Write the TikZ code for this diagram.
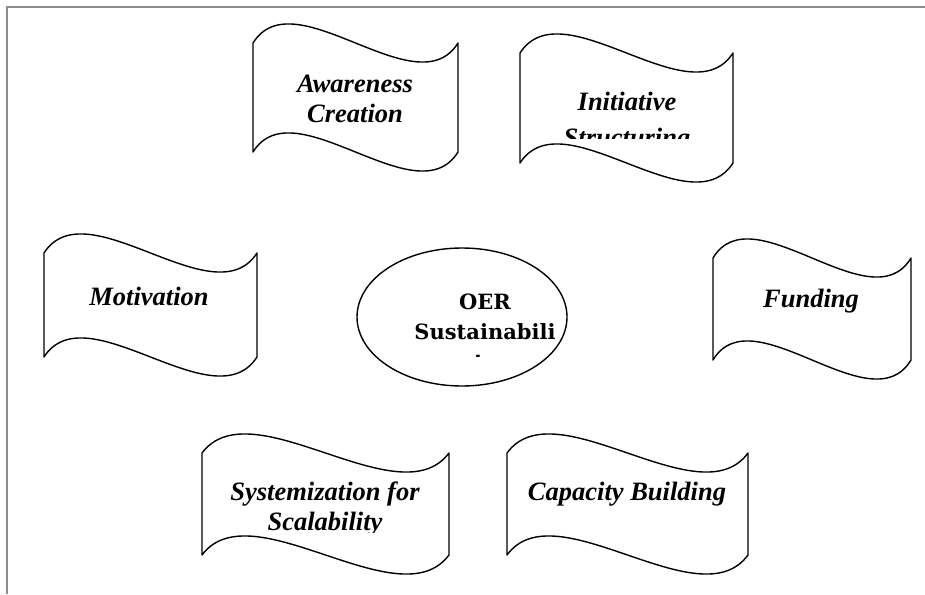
\documentclass[tikz,border=0pt]{standalone}
\usepackage{fontspec}
\setmainfont{Liberation Serif}
\newfontfamily\oerfont{DejaVu Serif}
\usetikzlibrary{shapes.geometric}

\tikzset{
  flagline/.style={draw=black, line width=1.4pt, fill=white, line join=round},
  flagtext/.style={font=\fontsize{26.5}{30}\selectfont\bfseries\itshape, align=center, anchor=base, inner sep=0pt},
  oertext/.style={font=\oerfont\fontsize{21}{30}\selectfont\bfseries, align=center, anchor=base, inner sep=0pt},
  frameline/.style={draw=black!45, line width=1.5pt},
}

% wave box: left x, top y, width, height
\newcommand{\waveflag}[4]{%
  \draw[flagline] (#1,#2) .. controls (#1+0.2*#3,#2-66) and (#1+0.8*#3,#2+66) .. (#1+#3,#2)
    -- (#1+#3,#2+#4) .. controls (#1+0.8*#3,#2+#4+66) and (#1+0.2*#3,#2+#4-66) .. (#1,#2+#4) -- cycle;}

\begin{document}
\begin{tikzpicture}[x=1pt, y=-1pt]
\useasboundingbox (0,0) rectangle (925,594);
\draw[frameline] (7,594) -- (7,7) -- (925,7);
%
\waveflag{253}{43}{205}{109}
\waveflag{520}{53}{213}{110}
\waveflag{44}{253}{213}{104}
\waveflag{713}{258}{198}{102}
\waveflag{202}{453}{247}{102}
\waveflag{507}{453}{241}{102}
%
\node[draw, ellipse, line width=1.4pt, minimum width=210pt, minimum height=138pt] (oer) at (462,317) {};
%
% base anchor sits on the last line
\node[flagtext] (aware) at (355,122) {Awareness\\Creation};
\begin{scope}
  \clip (520,60) rectangle (733,138);
  \node[flagtext] (init) at (627,146) {Initiative\\[6pt]Structuring};
\end{scope}
\node[flagtext] (motiv) at (149,305) {Motivation};
\node[flagtext] (fund) at (811,307) {Funding};
\begin{scope}
  \clip (202,440) rectangle (449,532);
  \node[flagtext] (syst) at (325,530) {Systemization for\\Scalability};
\end{scope}
\node[flagtext] (capac) at (627,500) {Capacity Building};
\begin{scope}
  \clip (400,280) rectangle (570,356);
  \node[oertext] (oerlbl) at (485,369) {OER\\Sustainabili\\ty};
\end{scope}
\end{tikzpicture}
\end{document}
